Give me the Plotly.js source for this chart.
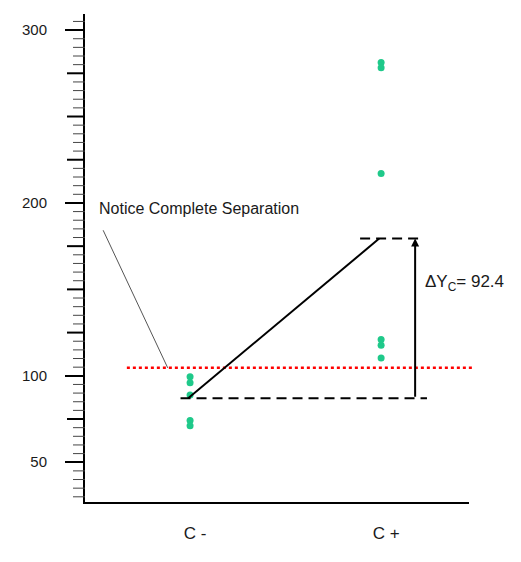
<!DOCTYPE html>
<html>
<head>
<meta charset="utf-8">
<script src="https://cdn.plot.ly/plotly-3.0.1.min.js"></script>
<style>
  html, body { margin: 0; padding: 0; background: #fff; }
  #chart { width: 521px; height: 562px; }
</style>
</head>
<body>
<div id="chart"></div>
<script>
// groups and observed responses
var categories = ['C -', 'C +'];
var cMinusValues = [99.4, 96.0, 88.9, 74.2, 71.1];
var cPlusValues = [281.3, 278.2, 217.1, 121.0, 117.7, 110.3];

// reference levels drawn on the chart
var cMinusLevel = 87.0;
var cPlusLevel = 179.4;
var deltaY = 92.4;
var cutoffLevel = 104.6;

// y ticks: labelled ones, and the other heavy ticks every 25
var labelTicks = [50, 100, 200, 300];
var labelText = ['50', '100', '200', '300'];
var plainMajorTicks = [75, 125, 150, 175, 225, 250, 275];

// light ticks every 5 between the heavy ones
var minorTicks = [];
for (var v = 30; v <= 305; v += 5) {
    if (v % 25 != 0) minorTicks.push(v);
}

var pointColor = '#1fc98a';
var yRange = [27, 309.3];
var fontFamily = 'Liberation Sans, Arial, sans-serif';
var plotWidth = 521 - 85 - 52;

var traceMinus = {
    x: cMinusValues.map(function () { return categories[0]; }),
    y: cMinusValues,
    type: 'scatter',
    mode: 'markers',
    marker: { color: pointColor, size: 7 },
    cliponaxis: false
};
var tracePlus = {
    x: cPlusValues.map(function () { return categories[1]; }),
    y: cPlusValues,
    type: 'scatter',
    mode: 'markers',
    marker: { color: pointColor, size: 7 },
    cliponaxis: false
};

// unlabelled tick marks, drawn as short lines left of the y axis
function tickMarks(vals, len, width, color) {
    return vals.map(function (val) {
        return {
            type: 'line', xref: 'paper', yref: 'y',
            x0: -len / plotWidth, x1: 0, y0: val, y1: val,
            line: { color: color, width: width }
        };
    });
}

var shapes = [
    // red cut-off line
    {
        type: 'line', xref: 'paper', yref: 'y',
        x0: 0.109, x1: 1.01, y0: cutoffLevel, y1: cutoffLevel,
        line: { color: '#ff0000', width: 2.5, dash: 'dot' }
    },
    // level of C- and C+
    {
        type: 'line', xref: 'x', yref: 'y',
        x0: -0.05, x1: 1.24, y0: cMinusLevel, y1: cMinusLevel,
        line: { color: '#000', width: 2, dash: '10px,6px' }
    },
    {
        type: 'line', xref: 'x', yref: 'y',
        x0: 0.89, x1: 1.22, y0: cPlusLevel, y1: cPlusLevel,
        line: { color: '#000', width: 2, dash: '10px,6px' }
    },
    // slope between the two levels
    {
        type: 'line', xref: 'x', yref: 'y',
        x0: -0.01, x1: 0.99, y0: cMinusLevel, y1: cPlusLevel,
        line: { color: '#000', width: 2 }
    },
    // pointer for the note
    {
        type: 'line', xref: 'x', yref: 'y',
        x0: -0.455, x1: -0.117, y0: 184.2, y1: cutoffLevel,
        line: { color: '#555', width: 1 }
    }
].concat(tickMarks(plainMajorTicks, 18, 2, '#000'))
 .concat(tickMarks(minorTicks, 12, 1, '#444'));

var layout = {
    width: 521,
    height: 562,
    margin: { l: 85, r: 52, t: 14, b: 60 },
    paper_bgcolor: '#ffffff',
    plot_bgcolor: '#ffffff',
    showlegend: false,
    hovermode: false,
    xaxis: {
        type: 'category',
        categoryarray: categories,
        range: [-0.55, 1.46],
        showgrid: false,
        zeroline: false,
        showline: true,
        linewidth: 2,
        linecolor: '#000',
        ticks: '',
        ticklabelstandoff: 15,
        ticklabelshift: 5,
        tickfont: { family: fontFamily, size: 17, color: '#1a1a1a' }
    },
    yaxis: {
        range: yRange,
        showgrid: false,
        zeroline: false,
        showline: true,
        linewidth: 2,
        linecolor: '#000',
        ticks: 'outside',
        ticklen: 18,
        tickwidth: 2,
        tickcolor: '#000',
        tickmode: 'array',
        tickvals: labelTicks,
        ticktext: labelText,
        ticklabelstandoff: 15,
        tickfont: { family: fontFamily, size: 15, color: '#1a1a1a' }
    },
    shapes: shapes,
    annotations: [
        {
            x: 1.178, y: cPlusLevel, xref: 'x', yref: 'y',
            ax: 1.178, ay: cMinusLevel, axref: 'x', ayref: 'y',
            text: '', showarrow: true,
            arrowhead: 2, arrowsize: 0.8, arrowwidth: 2, arrowcolor: '#000',
            standoff: 0
        },
        {
            x: 1.218, y: 153.5, xref: 'x', yref: 'y',
            xanchor: 'left', yanchor: 'middle',
            text: '\u0394Y<sub>C</sub>= ' + deltaY.toFixed(1),
            showarrow: false,
            font: { family: fontFamily, size: 17, color: '#1a1a1a' }
        },
        {
            x: -0.487, y: 196.7, xref: 'x', yref: 'y',
            xanchor: 'left', yanchor: 'middle',
            text: 'Notice Complete Separation',
            showarrow: false,
            font: { family: fontFamily, size: 16, color: '#1a1a1a' }
        }
    ]
};

Plotly.newPlot('chart', [traceMinus, tracePlus], layout, { displayModeBar: false, staticPlot: true });
</script>
</body>
</html>
